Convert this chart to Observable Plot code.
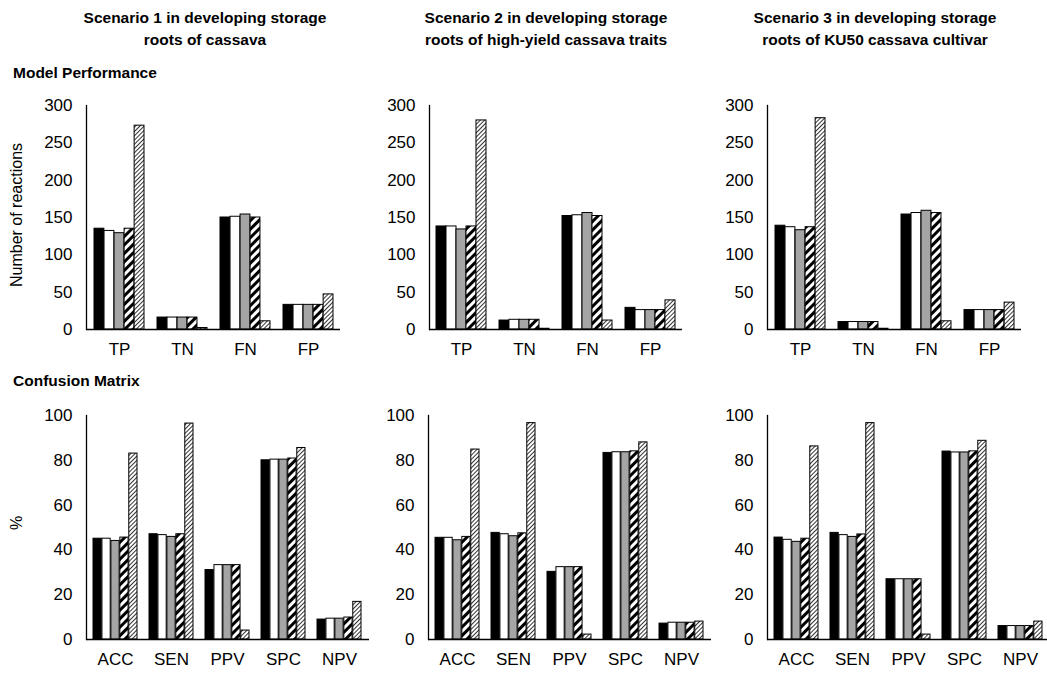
<!DOCTYPE html>
<html><head><meta charset="utf-8">
<script src="https://cdn.jsdelivr.net/npm/d3@7"></script>
<script src="https://cdn.jsdelivr.net/npm/@observablehq/plot@0.6"></script>
<style>
body{margin:0;width:1047px;height:674px;overflow:hidden;background:#fff;font-family:"Liberation Sans",Arial,sans-serif;position:relative;color:#000}
.abs{position:absolute}
.title{font-weight:bold;font-size:15.5px;text-align:center;line-height:22px;width:280px}
.sec{font-weight:bold;font-size:15.5px;line-height:18px;white-space:nowrap}
.ylab{font-size:16px;white-space:nowrap;transform:translate(-50%,-50%) rotate(-90deg)}
</style></head><body>
<svg width="0" height="0" style="position:absolute">
<defs>
<pattern id="wideUp" patternUnits="userSpaceOnUse" width="6" height="6" patternTransform="rotate(45)">
<rect width="6" height="6" fill="#fff"/><rect width="3" height="6" fill="#000"/>
</pattern>
<pattern id="lightUp" patternUnits="userSpaceOnUse" width="3" height="3" patternTransform="rotate(45)">
<rect width="3" height="3" fill="#fff"/><rect width="1" height="3" fill="#333"/>
</pattern>
</defs></svg>
<div id="root"></div>
<script>
const series = ["Series 1", "Series 2", "Series 3", "Series 4", "Series 5"];
const perfCats = ["TP", "TN", "FN", "FP"];
const confCats = ["ACC", "SEN", "PPV", "SPC", "NPV"];
const perfTicks = [0, 50, 100, 150, 200, 250, 300];
const confTicks = [0, 20, 40, 60, 80, 100];
const titles = [
  ["Scenario 1 in developing storage", "roots of cassava"],
  ["Scenario 2 in developing storage", "roots of high-yield cassava traits"],
  ["Scenario 3 in developing storage", "roots of KU50 cassava cultivar"]
];
// values per category, one entry per series
const perf1 = [[135, 132, 129, 135, 273], [16, 16, 16, 16, 2], [150, 151, 154, 150, 11], [33, 33, 33, 33, 47]];
const perf2 = [[138, 138, 134, 138, 280], [12, 13, 13, 13, 1], [152, 153, 156, 152, 12], [29, 26, 26, 26, 39]];
const perf3 = [[139, 137, 133, 137, 283], [10, 10, 10, 10, 1], [154, 156, 159, 156, 11], [26, 26, 26, 26, 36]];
const conf1 = [[45, 45, 44, 45.5, 83], [47, 46.6, 45.8, 47, 96.4], [31, 33.2, 33.2, 33.2, 4], [80, 80.3, 80.3, 80.8, 85.5], [8.9, 9.3, 9.3, 9.8, 16.8]];
const conf2 = [[45.4, 45.4, 44.3, 45.8, 84.8], [47.6, 47, 46.1, 47.4, 96.6], [30.2, 32.3, 32.3, 32.3, 2.2], [83.3, 83.6, 83.6, 84, 88], [7.1, 7.5, 7.5, 7.5, 8]];
const conf3 = [[45.5, 44.5, 43.6, 45, 86.2], [47.6, 46.6, 45.8, 46.9, 96.6], [26.9, 26.9, 26.9, 26.9, 2.2], [83.9, 83.5, 83.5, 84, 88.7], [6, 6, 6, 6, 8]];

const fills = ["#000", "#fff", "#a5a5a5", "url(#wideUp)", "url(#lightUp)"];

function addDiv(cls, text, left, top) {
  const d = document.createElement("div");
  d.className = "abs " + cls;
  d.textContent = text;
  d.style.left = left + "px";
  d.style.top = top + "px";
  document.body.appendChild(d);
  return d;
}

function panel(cats, values, ticks, left, top, innerW) {
  const ml = 60, mr = 10, mt = 10, mb = 36, innerH = 224;
  const pi = 0.21, po = 0.105;
  const step = innerW / (cats.length - pi + 2 * po);
  const bw = step * (1 - pi) / series.length;
  const rows = cats.flatMap((c, i) => series.map((s, j) => ({cat: c, series: s, value: values[i][j]})));
  const marks = series.map((s, j) => Plot.barY(rows.filter(d => d.series === s), {
    x: "cat", y: "value", fill: fills[j], stroke: "#000", strokeWidth: 1,
    insetLeft: j * bw, insetRight: (series.length - 1 - j) * bw
  }));
  const W = ml + innerW + mr;
  const svg = Plot.plot({
    width: W, height: mt + innerH + mb,
    marginLeft: ml, marginRight: mr, marginTop: mt, marginBottom: mb,
    x: {domain: cats, paddingInner: pi, paddingOuter: po, align: 0.5, label: null, tickSize: 0, tickPadding: 13},
    y: {domain: [0, ticks[ticks.length - 1]], ticks: ticks, label: null, tickSize: 0, tickPadding: 14},
    style: {fontSize: "17px", fontFamily: "'Liberation Sans', Arial, sans-serif", color: "#000", background: "transparent", maxWidth: "none", overflow: "visible"},
    marks: [...marks, Plot.ruleY([0], {strokeWidth: 1.3}), Plot.frame({anchor: "left", strokeWidth: 1.3})]
  });
  const wrap = document.createElement("div");
  wrap.className = "abs";
  wrap.style.left = left + "px";
  wrap.style.top = top + "px";
  wrap.style.width = W + "px";
  wrap.appendChild(svg);
  document.body.appendChild(wrap);
}

panel(perfCats, perf1, perfTicks, 26, 95, 254);
panel(perfCats, perf2, perfTicks, 369, 95, 253);
panel(perfCats, perf3, perfTicks, 707, 95, 254);
panel(confCats, conf1, confTicks, 26, 405, 283);
panel(confCats, conf2, confTicks, 368, 405, 283);
panel(confCats, conf3, confTicks, 707, 405, 283);

const centers = [205, 546, 875];
titles.forEach((t, i) => {
  const d = addDiv("title", "", centers[i] - 140, 7);
  d.appendChild(document.createTextNode(t[0]));
  d.appendChild(document.createElement("br"));
  d.appendChild(document.createTextNode(t[1]));
});
addDiv("sec", "Model Performance", 13, 64);
addDiv("sec", "Confusion Matrix", 13, 372);
addDiv("ylab", "Number of reactions", 17, 215);
addDiv("ylab", "%", 17, 523);
</script>
</body></html>
